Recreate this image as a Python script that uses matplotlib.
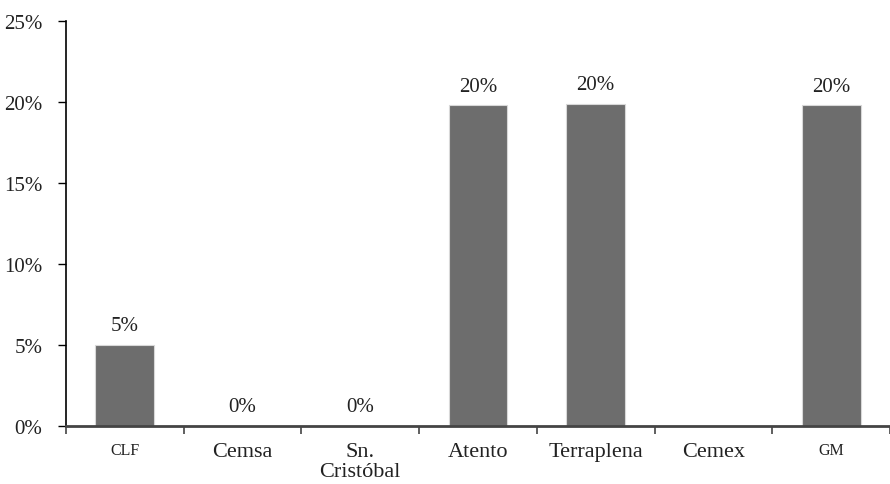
import matplotlib.pyplot as plt
import numpy as np

categories = ["CLF", "Cemsa", "Sn.\nCristóbal", "Atento", "Terraplena", "Cemex", "GM"]
values = [5.0, 0.0, 0.0, 19.8, 19.9, None, 19.8]
yticks = [0, 5, 10, 15, 20, 25]

plt.rcParams['font.family'] = ['Liberation Serif', 'DejaVu Serif']

fig = plt.figure(figsize=(8.9, 4.85), dpi=100)
ax = fig.add_axes([66/890, 58/485, 1 - 66/890, 405/485])

x = np.arange(len(categories))
heights = [v if v is not None else 0 for v in values]
ax.bar(x, heights, width=0.5, color='#6d6d6d', edgecolor='#d8d8d8', linewidth=0.8, zorder=2)

for xi, v in zip(x, values):
    if v is None:
        continue
    ax.annotate(f"{v:.0f}%", (xi, v), xytext=(0, 7), textcoords='offset points',
                ha='center', va='bottom', fontsize=15, color='#222222')

ax.set_xlim(-0.5, len(categories) - 0.5)
ax.set_ylim(0, 25)
ax.set_yticks(yticks)
ax.set_yticklabels([f"{t}%" for t in yticks], fontsize=15, color='#222222')
ax.set_xticks(np.arange(len(categories) + 1) - 0.5, minor=False)
ax.set_xticklabels([])
ax.set_xticks(x, minor=True)
ax.set_xticklabels(categories, minor=True)
for lbl, c in zip(ax.get_xticklabels(minor=True), categories):
    lbl.set_fontsize(11.5 if c in ("CLF", "GM") else 16)
    lbl.set_color('#222222')
    lbl.set_linespacing(1.1)
ax.tick_params(axis='x', which='minor', length=0, pad=11.5)
ax.tick_params(axis='x', which='major', length=6, width=1.2, color='#444444', direction='out')
ax.tick_params(axis='y', length=6, width=1, direction='out', pad=11)

for s in ['top', 'right']:
    ax.spines[s].set_visible(False)
ax.spines['left'].set_color('black')
ax.spines['left'].set_linewidth(1.2)
ax.spines['bottom'].set_color('#444444')
ax.spines['bottom'].set_linewidth(2)

fig.savefig("out.png", dpi=100)
